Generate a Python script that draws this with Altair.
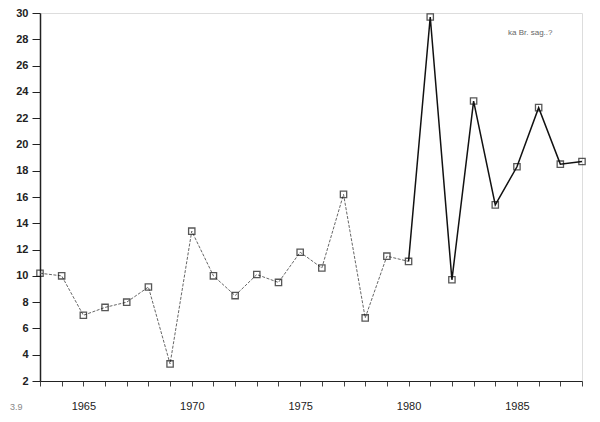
import altair as alt
import pandas as pd

years = list(range(1963, 1989))
values = [10.2, 10.0, 7.0, 7.6, 8.0, 9.15, 3.3, 13.4, 10.0, 8.5, 10.1, 9.5,
          11.8, 10.6, 16.2, 6.8, 11.5, 11.1, 29.7, 9.7, 23.3, 15.4, 18.3,
          22.8, 18.5, 18.7]
y_ticks = list(range(2, 31, 2))
x_ticks = years

df = pd.DataFrame({"year": years, "value": values})
early = df[df.year <= 1980]
late = df[df.year >= 1980]

xs = alt.X("year:Q", scale=alt.Scale(domain=[1963, 1988], nice=False, zero=False),
           axis=alt.Axis(values=x_ticks, labelExpr="datum.value % 5 == 0 ? format(datum.value, 'd') : ''",
                         title=None, grid=False, tickSize=5, labelPadding=14,
                         labelFontSize=11, labelColor="#222", domainColor="#222",
                         tickColor="#444", labelFont="Liberation Sans"))
ys = alt.Y("value:Q", scale=alt.Scale(domain=[2, 30], nice=False, zero=False),
           axis=alt.Axis(values=y_ticks, title=None, grid=False, tickSize=8,
                         labelFontSize=11, labelFontWeight="bold", labelColor="#222",
                         domainColor="#222", tickColor="#222", labelPadding=4,
                         labelFont="Liberation Sans", domainWidth=1.5))

line_early = alt.Chart(early).mark_line(color="#555", strokeWidth=0.9, strokeDash=[3, 1.5]).encode(x=xs, y=ys)
line_late = alt.Chart(late).mark_line(color="#111", strokeWidth=1.5).encode(x=xs, y=ys)
pts = alt.Chart(df).mark_point(shape="square", size=40, filled=False, color="#111", strokeWidth=1.3).encode(x=xs, y=ys)

note = alt.Chart(pd.DataFrame({"t": ["ka Br. sag..?"]})).mark_text(
    fontSize=8, color="#666", align="left", font="Liberation Sans").encode(
    text="t:N", x=alt.value(468), y=alt.value(20))
fig = alt.Chart(pd.DataFrame({"t": ["3.9"]})).mark_text(
    fontSize=9, color="#888", align="left", font="Liberation Sans").encode(
    text="t:N", x=alt.value(-30), y=alt.value(394))

chart = alt.layer(line_early, line_late, pts, note, fig).properties(
    width=542, height=368,
    autosize=alt.AutoSizeParams(type="none"),
    padding={"left": 32, "top": 5, "right": 10, "bottom": 30},
).configure_view(stroke="#111", strokeWidth=1.5).configure(background="white")

chart.save("out.html", embed_options={"renderer": "svg", "actions": False})
